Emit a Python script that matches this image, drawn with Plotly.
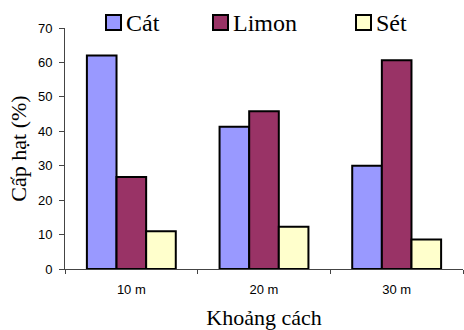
import plotly.graph_objects as go

# Grain-size composition at three distances
distances = ["10 m", "20 m", "30 m"]
series_names = ["Cát", "Limon", "Sét"]
cat_values = [62.0, 41.3, 30.0]
limon_values = [26.7, 45.8, 60.6]
set_values = [11.0, 12.3, 8.6]
colors = ["#9999FF", "#993366", "#FFFFCC"]
y_ticks = [0, 10, 20, 30, 40, 50, 60, 70]

SERIF = "Liberation Serif, Times New Roman, serif"
SANS = "Liberation Sans, Arial, sans-serif"

W, H = 464, 330
ML, MR, MT, MB = 65, 1, 28, 61
PW, PH = W - ML - MR, H - MT - MB

fig = go.Figure()
for name, vals, col in zip(series_names, [cat_values, limon_values, set_values], colors):
    fig.add_trace(go.Bar(
        x=distances, y=vals, name=name,
        marker=dict(color=col, line=dict(color="black", width=2)),
    ))


def px_x(p):
    return (p - ML) / PW


def px_y(p):
    return (H - MB - p) / PH


# Legend row drawn above the plot: square swatch followed by the label
legend_left = [106, 213, 356]
shapes, annotations = [], []
for name, col, left in zip(series_names, colors, legend_left):
    shapes.append(dict(
        type="rect", xref="paper", yref="paper",
        x0=px_x(left), x1=px_x(left + 15), y0=px_y(30), y1=px_y(15),
        fillcolor=col, line=dict(color="black", width=2), layer="above",
    ))
    annotations.append(dict(
        text=name, xref="paper", yref="paper",
        x=px_x(left + 18), y=px_y(23), xanchor="left", yanchor="middle",
        showarrow=False,
        font=dict(family=SERIF, size=24, color="black"),
    ))

fig.update_layout(
    width=W, height=H,
    margin=dict(l=ML, r=MR, t=MT, b=MB),
    paper_bgcolor="white", plot_bgcolor="white",
    barmode="group", bargap=0.33, bargroupgap=0,
    showlegend=False,
    shapes=shapes, annotations=annotations,
    font=dict(family=SANS, size=13, color="black"),
)

fig.update_xaxes(
    showline=True, linecolor="#444444", linewidth=1,
    ticks="outside", tickson="boundaries", ticklen=4, tickcolor="#444444",
    showgrid=False, ticklabelstandoff=8,
    tickfont=dict(family=SANS, size=13),
    title=dict(text="Khoảng cách", font=dict(family=SERIF, size=22), standoff=16),
)
fig.update_yaxes(
    range=[0, 70], tickvals=y_ticks,
    showline=True, linecolor="#444444", linewidth=1,
    ticks="outside", ticklen=5, tickcolor="#444444",
    showgrid=False, zeroline=False, ticklabelstandoff=4,
    tickfont=dict(family=SANS, size=13),
    title=dict(text="Cấp hạt (%)", font=dict(family=SERIF, size=22), standoff=5),
)

fig.write_html("out.html")
